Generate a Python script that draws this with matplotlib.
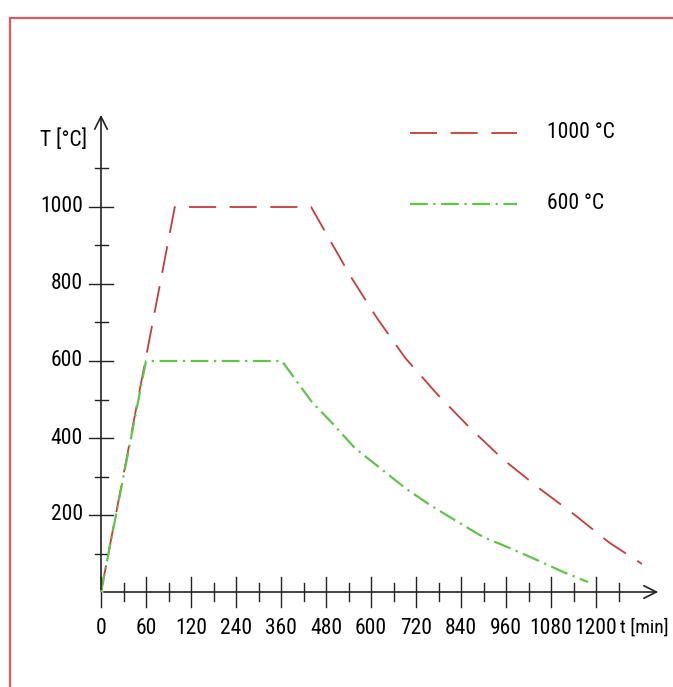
import numpy as np
import matplotlib
matplotlib.use("Agg")
import matplotlib.pyplot as plt
from matplotlib.patches import Rectangle

plt.rcParams["font.family"] = ["Roboto Condensed", "Barlow Condensed", "Liberation Sans", "DejaVu Sans"]

# x values are positions along the time axis (one slot per labelled tick)
x_labels = ["0", "60", "120", "240", "360", "480", "600", "720", "840", "960", "1080", "1200"]
y_major = [200, 400, 600, 800, 1000]
y_minor = [100, 300, 500, 700, 900, 1100]

t_1000 = [0, 1.64, 4.67, 5.53, 6.13, 6.76, 7.47, 8.20, 8.93, 9.73, 10.53, 11.31, 12.02]
T_1000 = [0, 1000, 1000, 823, 712, 608, 514, 426, 345, 270, 200, 127, 73]
t_600 = [0, 1.0, 4.02, 4.69, 5.16, 5.64, 6.20, 6.76, 7.31, 7.93, 8.49, 9.09, 9.69, 10.27, 10.82]
T_600 = [0, 600, 600, 493, 436, 374, 322, 270, 226, 182, 143, 114, 83, 52, 26]

red = "#c63c3c"
green = "#62c24c"
ink = "#222222"
W, H = 673, 687
x0, dx = 101, 45.0          # pixel of x=0, pixels per slot
y0, dy = 592, 77 / 200.0    # pixel of T=0, pixels per degree
fs = 15.5

fig = plt.figure(figsize=(W / 100, H / 100), dpi=100)
ax = fig.add_axes([0, 0, 1, 1])
ax.set_xlim(-x0 / dx, (W - x0) / dx)
ax.set_ylim(-(H - y0) / dy, y0 / dy)
ax.axis("off")

# frame around the picture
fig.patches.append(Rectangle((10 / W, -0.1), 1.2, (H - 18) / H + 0.1, transform=fig.transFigure,
                             fill=False, ec="#d95a62", lw=1.6))

# axes with open arrow heads
arr = dict(arrowstyle="->,head_length=0.9,head_width=0.45", lw=1.2, color=ink)
ax.annotate("", xy=((661 - x0) / dx, 0), xytext=(0, 0), arrowprops=arr)
ax.annotate("", xy=(0, (y0 - 112) / dy), xytext=(0, 0), arrowprops=arr)

# x ticks
for i, lab in enumerate(x_labels):
    ax.plot([i, i], [-15 / dy, 15 / dy], color=ink, lw=1.0)
    ax.text(i, -36 / dy, lab, ha="center", va="center", fontsize=fs)
for i in range(len(x_labels)):
    m = i + 0.5
    ax.plot([m, m], [-9 / dy, 9 / dy], color=ink, lw=1.0)
ax.text((620 - x0) / dx, -36 / dy, "t [min]", ha="left", va="center", fontsize=14)

# y ticks
for v in y_major:
    ax.plot([-12 / dx, 12 / dx], [v, v], color=ink, lw=1.0)
    ax.text(-18 / dx, v, str(v), ha="right", va="center", fontsize=fs)
for v in y_minor:
    ax.plot([-6 / dx, 7 / dx], [v, v], color=ink, lw=1.0)
ax.text(-37 / dx, (y0 - 140) / dy, "T [°C]", ha="center", va="center", fontsize=fs)

# curves
ax.plot(t_1000, T_1000, color=red, lw=1.3, linestyle=(0, (15, 7.5)))
ax.plot(t_600, T_600, color=green, lw=1.6, linestyle=(0, (8, 2.5, 1, 2.5)))

# legend
lx = [(410 - x0) / dx, (517 - x0) / dx]
ax.plot(lx, [(y0 - 133) / dy] * 2, color=red, lw=1.3, linestyle=(0, (15, 7.5)))
ax.plot(lx, [(y0 - 204) / dy] * 2, color=green, lw=1.6, linestyle=(0, (8, 2.5, 1, 2.5)))
ax.text((547 - x0) / dx, (y0 - 133) / dy, "1000 °C", ha="left", va="center", fontsize=fs)
ax.text((547 - x0) / dx, (y0 - 204) / dy, "600 °C", ha="left", va="center", fontsize=fs)

fig.savefig("out.png", dpi=100)
